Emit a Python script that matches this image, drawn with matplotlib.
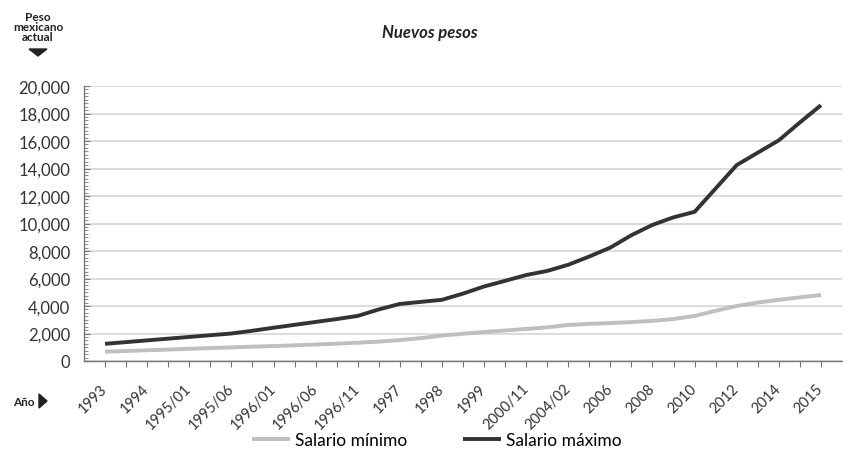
import matplotlib
matplotlib.use("Agg")
import matplotlib.pyplot as plt
from matplotlib.ticker import MultipleLocator, FuncFormatter

# periods on the x axis (only every other one carries a label)
periodos = ["1993", "", "1994", "", "1995/01", "", "1995/06", "", "1996/01", "",
            "1996/06", "", "1996/11", "", "1997", "", "1998", "", "1999", "",
            "2000/11", "", "2004/02", "", "2006", "", "2008", "", "2010", "",
            "2012", "", "2014", "", "2015"]

salario_minimo = [680, 730, 780, 830, 890, 940, 990, 1040, 1090, 1140,
                  1200, 1260, 1330, 1410, 1520, 1660, 1850, 1980, 2110, 2220,
                  2330, 2450, 2620, 2700, 2760, 2830, 2920, 3050, 3280, 3650,
                  4000, 4250, 4450, 4630, 4800]

salario_maximo = [1250, 1375, 1500, 1625, 1750, 1875, 2000, 2200, 2420, 2630,
                  2840, 3050, 3280, 3750, 4150, 4300, 4450, 4900, 5420, 5830,
                  6250, 6550, 7000, 7600, 8250, 9150, 9900, 10450, 10850, 12550,
                  14250, 15150, 16050, 17350, 18600]

plt.rcParams["font.family"] = ["Lato", "DejaVu Sans"]

W, H = 843, 477
fig = plt.figure(figsize=(W / 100, H / 100), dpi=100)
ax = fig.add_axes([84 / W, 1 - 362 / H, (842 - 84) / W, (362 - 87) / H])

x = list(range(len(periodos)))
ax.plot(x, salario_minimo, color="#bfbfbf", lw=2.8, label="Salario mínimo",
        solid_capstyle="butt")
ax.plot(x, salario_maximo, color="#333333", lw=2.8, label="Salario máximo",
        solid_capstyle="butt")

ax.set_xlim(-1, 35)
ax.set_ylim(0, 20000)
ax.yaxis.set_major_locator(MultipleLocator(2000))
ax.yaxis.set_minor_locator(MultipleLocator(250))
ax.yaxis.set_major_formatter(FuncFormatter(lambda v, p: f"{int(v):,}"))
ax.grid(axis="y", color="#d9d9d9", lw=1.3)
ax.set_axisbelow(True)

ax.set_xticks(x)
ax.set_xticklabels(periodos, rotation=45, ha="right", va="center",
                   rotation_mode="anchor", fontsize=10.5, color="#333333")
ax.tick_params(axis="x", direction="out", length=4, color="#777777", pad=14)
ax.tick_params(axis="y", which="major", direction="in", length=4,
               color="#777777", labelsize=12, labelcolor="#333333", pad=10)
ax.tick_params(axis="y", which="minor", direction="in", length=3, color="#777777")

for s in ["top", "right"]:
    ax.spines[s].set_visible(False)
for s in ["left", "bottom"]:
    ax.spines[s].set_color("#777777")
    ax.spines[s].set_linewidth(1.0)

# header texts and the small arrow marks
fig.text(38 / W, 1 - 12 / H, "Peso\nmexicano\nactual", ha="center", va="top",
         fontsize=8.5, fontweight="bold", linespacing=0.9, color="#222222")
fig.add_artist(plt.Polygon([[29 / W, 1 - 50 / H], [47 / W, 1 - 50 / H],
                            [38 / W, 1 - 57 / H]], closed=True,
                           transform=fig.transFigure, color="#222222"))
fig.text(430 / W, 1 - 33 / H, "Nuevos pesos", ha="center", va="center",
         fontsize=12, fontweight="bold", style="italic", color="#222222")

fig.text(13 / W, 1 - 403 / H, "Año", ha="left", va="center",
         fontsize=8.5, fontweight="bold", color="#222222")
fig.add_artist(plt.Polygon([[39 / W, 1 - 395 / H], [39 / W, 1 - 409 / H],
                            [47 / W, 1 - 402 / H]], closed=True,
                           transform=fig.transFigure, color="#222222"))

fig.legend(loc="center", bbox_to_anchor=(437 / W, 1 - 441 / H), ncol=2,
           frameon=False, fontsize=12.5, handlelength=2.2, handletextpad=0.3,
           columnspacing=3.2)

fig.savefig("out.png", dpi=100)
